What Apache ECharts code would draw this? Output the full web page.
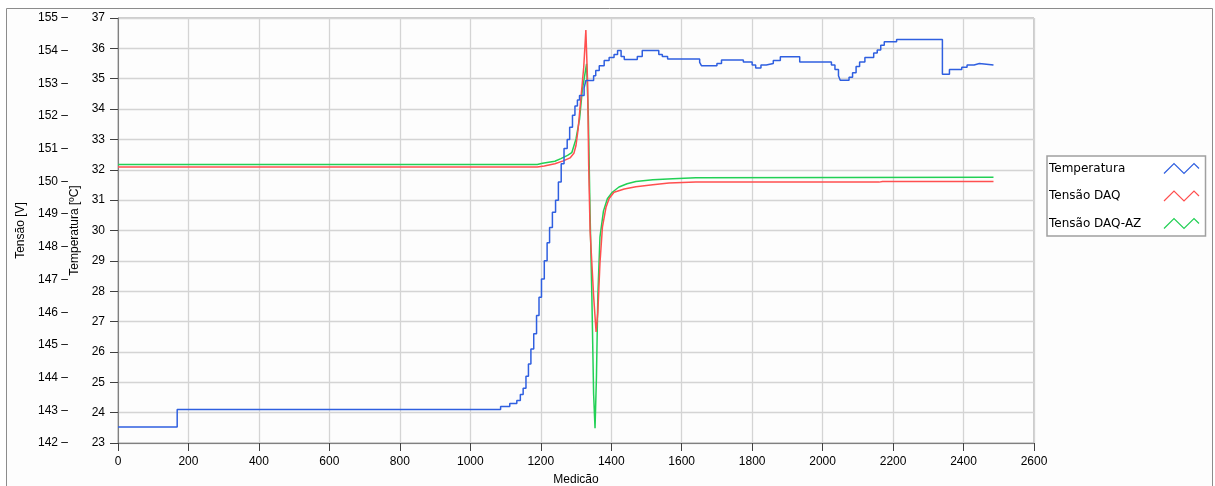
<!DOCTYPE html>
<html>
<head>
<meta charset="utf-8">
<script src="https://cdn.jsdelivr.net/npm/echarts@6/dist/echarts.min.js"></script>
<style>
  html, body { margin: 0; padding: 0; background: #fff; }
  #myChart { width: 1215px; height: 486px; }
</style>
</head>
<body>
<div id="myChart"></div>
<script>
// Temperatura [ºC] (step line), pares [medição, valor]
const temperatura = [
  [0, 23.53], [168, 24.1], [1086, 24.2], [1112, 24.3], [1132, 24.4], [1142, 24.6], [1150, 24.8],
  [1158, 25.2], [1165, 25.6], [1172, 26.1], [1180, 26.6], [1188, 27.2], [1195, 27.8], [1202, 28.4],
  [1210, 29.0], [1218, 29.6], [1225, 30.1], [1233, 30.6], [1242, 31.0], [1250, 31.6], [1258, 32.2],
  [1266, 32.7], [1275, 33.0], [1282, 33.4], [1290, 33.8], [1297, 34.1], [1304, 34.3], [1310, 34.45],
  [1323, 34.7], [1328, 34.94], [1350, 35.1], [1356, 35.27], [1366, 35.43], [1380, 35.6], [1394, 35.7],
  [1408, 35.8], [1418, 35.93], [1428, 35.73], [1437, 35.63], [1474, 35.73], [1488, 35.93], [1535, 35.8],
  [1545, 35.73], [1560, 35.65], [1651, 35.54], [1656, 35.43], [1700, 35.5], [1713, 35.62], [1775, 35.55],
  [1800, 35.45], [1810, 35.35], [1825, 35.45], [1840, 35.5], [1860, 35.6], [1880, 35.72], [1935, 35.55],
  [2025, 35.45], [2035, 35.3], [2045, 35.1], [2050, 34.95], [2075, 35.05], [2085, 35.2], [2095, 35.4],
  [2105, 35.55], [2120, 35.7], [2145, 35.85], [2155, 35.95], [2165, 36.1], [2175, 36.22], [2210, 36.29],
  [2340, 35.15], [2360, 35.3], [2395, 35.38], [2410, 35.45], [2430, 35.5], [2445, 35.45], [2485, 35.45]
];
// Tensão DAQ [V]
const tensaoDaq = [
  [0, 150.44], [1190, 150.44], [1210, 150.47], [1240, 150.54], [1264, 150.63], [1283, 150.72],
  [1294, 150.86], [1300, 151.1], [1306, 151.6], [1311, 152.2], [1322, 153.5], [1328, 154.63],
  [1333, 153.0], [1336, 150.5], [1340, 148.5], [1350, 146.5], [1357, 145.4], [1362, 146.0],
  [1368, 147.5], [1375, 148.6], [1385, 149.2], [1394, 149.48], [1408, 149.67], [1437, 149.77],
  [1470, 149.84], [1518, 149.9], [1564, 149.95], [1640, 149.98], [2160, 149.98], [2170, 150.0], [2485, 150.0]
];
// Tensão DAQ-AZ [V]
const tensaoDaqAz = [
  [0, 150.52], [1190, 150.52], [1205, 150.56], [1240, 150.62], [1257, 150.7], [1276, 150.8],
  [1288, 150.88], [1300, 151.3], [1310, 151.9], [1318, 152.8], [1330, 153.6], [1335, 152.0],
  [1340, 149.0], [1345, 146.5], [1350, 143.5], [1354, 142.45], [1358, 144.0], [1362, 146.5],
  [1368, 148.3], [1378, 149.1], [1389, 149.47], [1403, 149.67], [1422, 149.83], [1445, 149.93],
  [1470, 150.0], [1518, 150.05], [1575, 150.08], [1640, 150.11], [2485, 150.13]
];

const seriesNames = ['Temperatura', 'Tensão DAQ', 'Tensão DAQ-AZ'];
const seriesColors = ['#2f5fe0', '#ff4f4f', '#22d055'];
const font = 'Liberation Sans';
const legendFont = 'DejaVu Sans';
const plain = v => String(v);

let myChart = echarts.init(document.getElementById('myChart'));
myChart.setOption({
  animation: false,
  textStyle: { fontFamily: font },
  graphic: [{
    type: 'rect', silent: true, z: -10,
    shape: { x: 6.5, y: 8.5, width: 1206, height: 490 },
    style: { fill: '#fdfdfd', stroke: '#8c8c8c', lineWidth: 1 }
  }],
  grid: {
    left: 118, right: 181, top: 18, bottom: 43, outerBoundsMode: 'none',
    show: true, backgroundColor: '#fdfdfd', borderColor: '#9a9a9a', borderWidth: 1
  },
  legend: {
    orient: 'vertical', left: 1047, top: 156, align: 'right',
    padding: [5, 4, 5, 2], itemGap: 12.5, itemWidth: 35, itemHeight: 10,
    borderColor: '#a0a0a0', borderWidth: 1.5, backgroundColor: '#fff',
    formatter: '{n|{name}}',
    textStyle: {
      color: '#000', fontSize: 12, fontFamily: legendFont,
      rich: { n: { width: 110, align: 'left', fontSize: 12, fontFamily: legendFont, color: '#000' } }
    },
    data: seriesNames.map((n, i) => ({
      name: n,
      icon: 'path://M0,10L10,0L20,10L30,0L35,5',
      itemStyle: { color: 'none', borderColor: seriesColors[i], borderWidth: 1.2 }
    }))
  },
  xAxis: {
    type: 'value', min: 0, max: 2600, interval: 200,
    name: 'Medicão', nameLocation: 'middle', nameGap: 31,
    nameTextStyle: { color: '#000', fontSize: 12, fontFamily: font },
    axisLine: { show: true, lineStyle: { color: '#808080' } },
    axisTick: { show: true, length: 8, lineStyle: { color: '#404040' } },
    axisLabel: { color: '#000', fontSize: 12, margin: 13, formatter: plain },
    splitLine: { show: true, lineStyle: { color: '#d4d4d4', width: 1.3 } }
  },
  yAxis: [{
    type: 'value', position: 'left', offset: 49, min: 142, max: 155, interval: 1,
    name: 'Tensão [V]', nameLocation: 'middle', nameGap: 42, nameRotate: 90,
    nameTextStyle: { color: '#000', fontSize: 12, fontFamily: font },
    axisLine: { show: false },
    axisTick: { show: false },
    axisLabel: { color: '#000', fontSize: 12, margin: 1, formatter: v => v + ' –' },
    splitLine: { show: false }
  }, {
    type: 'value', position: 'left', offset: 0, min: 23, max: 37, interval: 1,
    name: 'Temperatura [ºC]', nameLocation: 'middle', nameGap: 35, nameRotate: 90,
    nameTextStyle: { color: '#000', fontSize: 12, fontFamily: font },
    axisLine: { show: true, lineStyle: { color: '#808080' } },
    axisTick: { show: true, length: 8, lineStyle: { color: '#404040' } },
    axisLabel: { color: '#000', fontSize: 12, margin: 13, formatter: plain },
    splitLine: { show: true, lineStyle: { color: '#d4d4d4', width: 1.3 } }
  }],
  series: [{
    name: seriesNames[0], type: 'line', yAxisIndex: 1, step: 'end', z: 4,
    symbol: 'none', color: seriesColors[0], lineStyle: { width: 1.5 },
    data: temperatura
  }, {
    name: seriesNames[1], type: 'line', yAxisIndex: 0, z: 3,
    symbol: 'none', color: seriesColors[1], lineStyle: { width: 1.5 },
    data: tensaoDaq
  }, {
    name: seriesNames[2], type: 'line', yAxisIndex: 0, z: 2,
    symbol: 'none', color: seriesColors[2], lineStyle: { width: 1.5 },
    data: tensaoDaqAz
  }]
});
</script>
</body>
</html>
